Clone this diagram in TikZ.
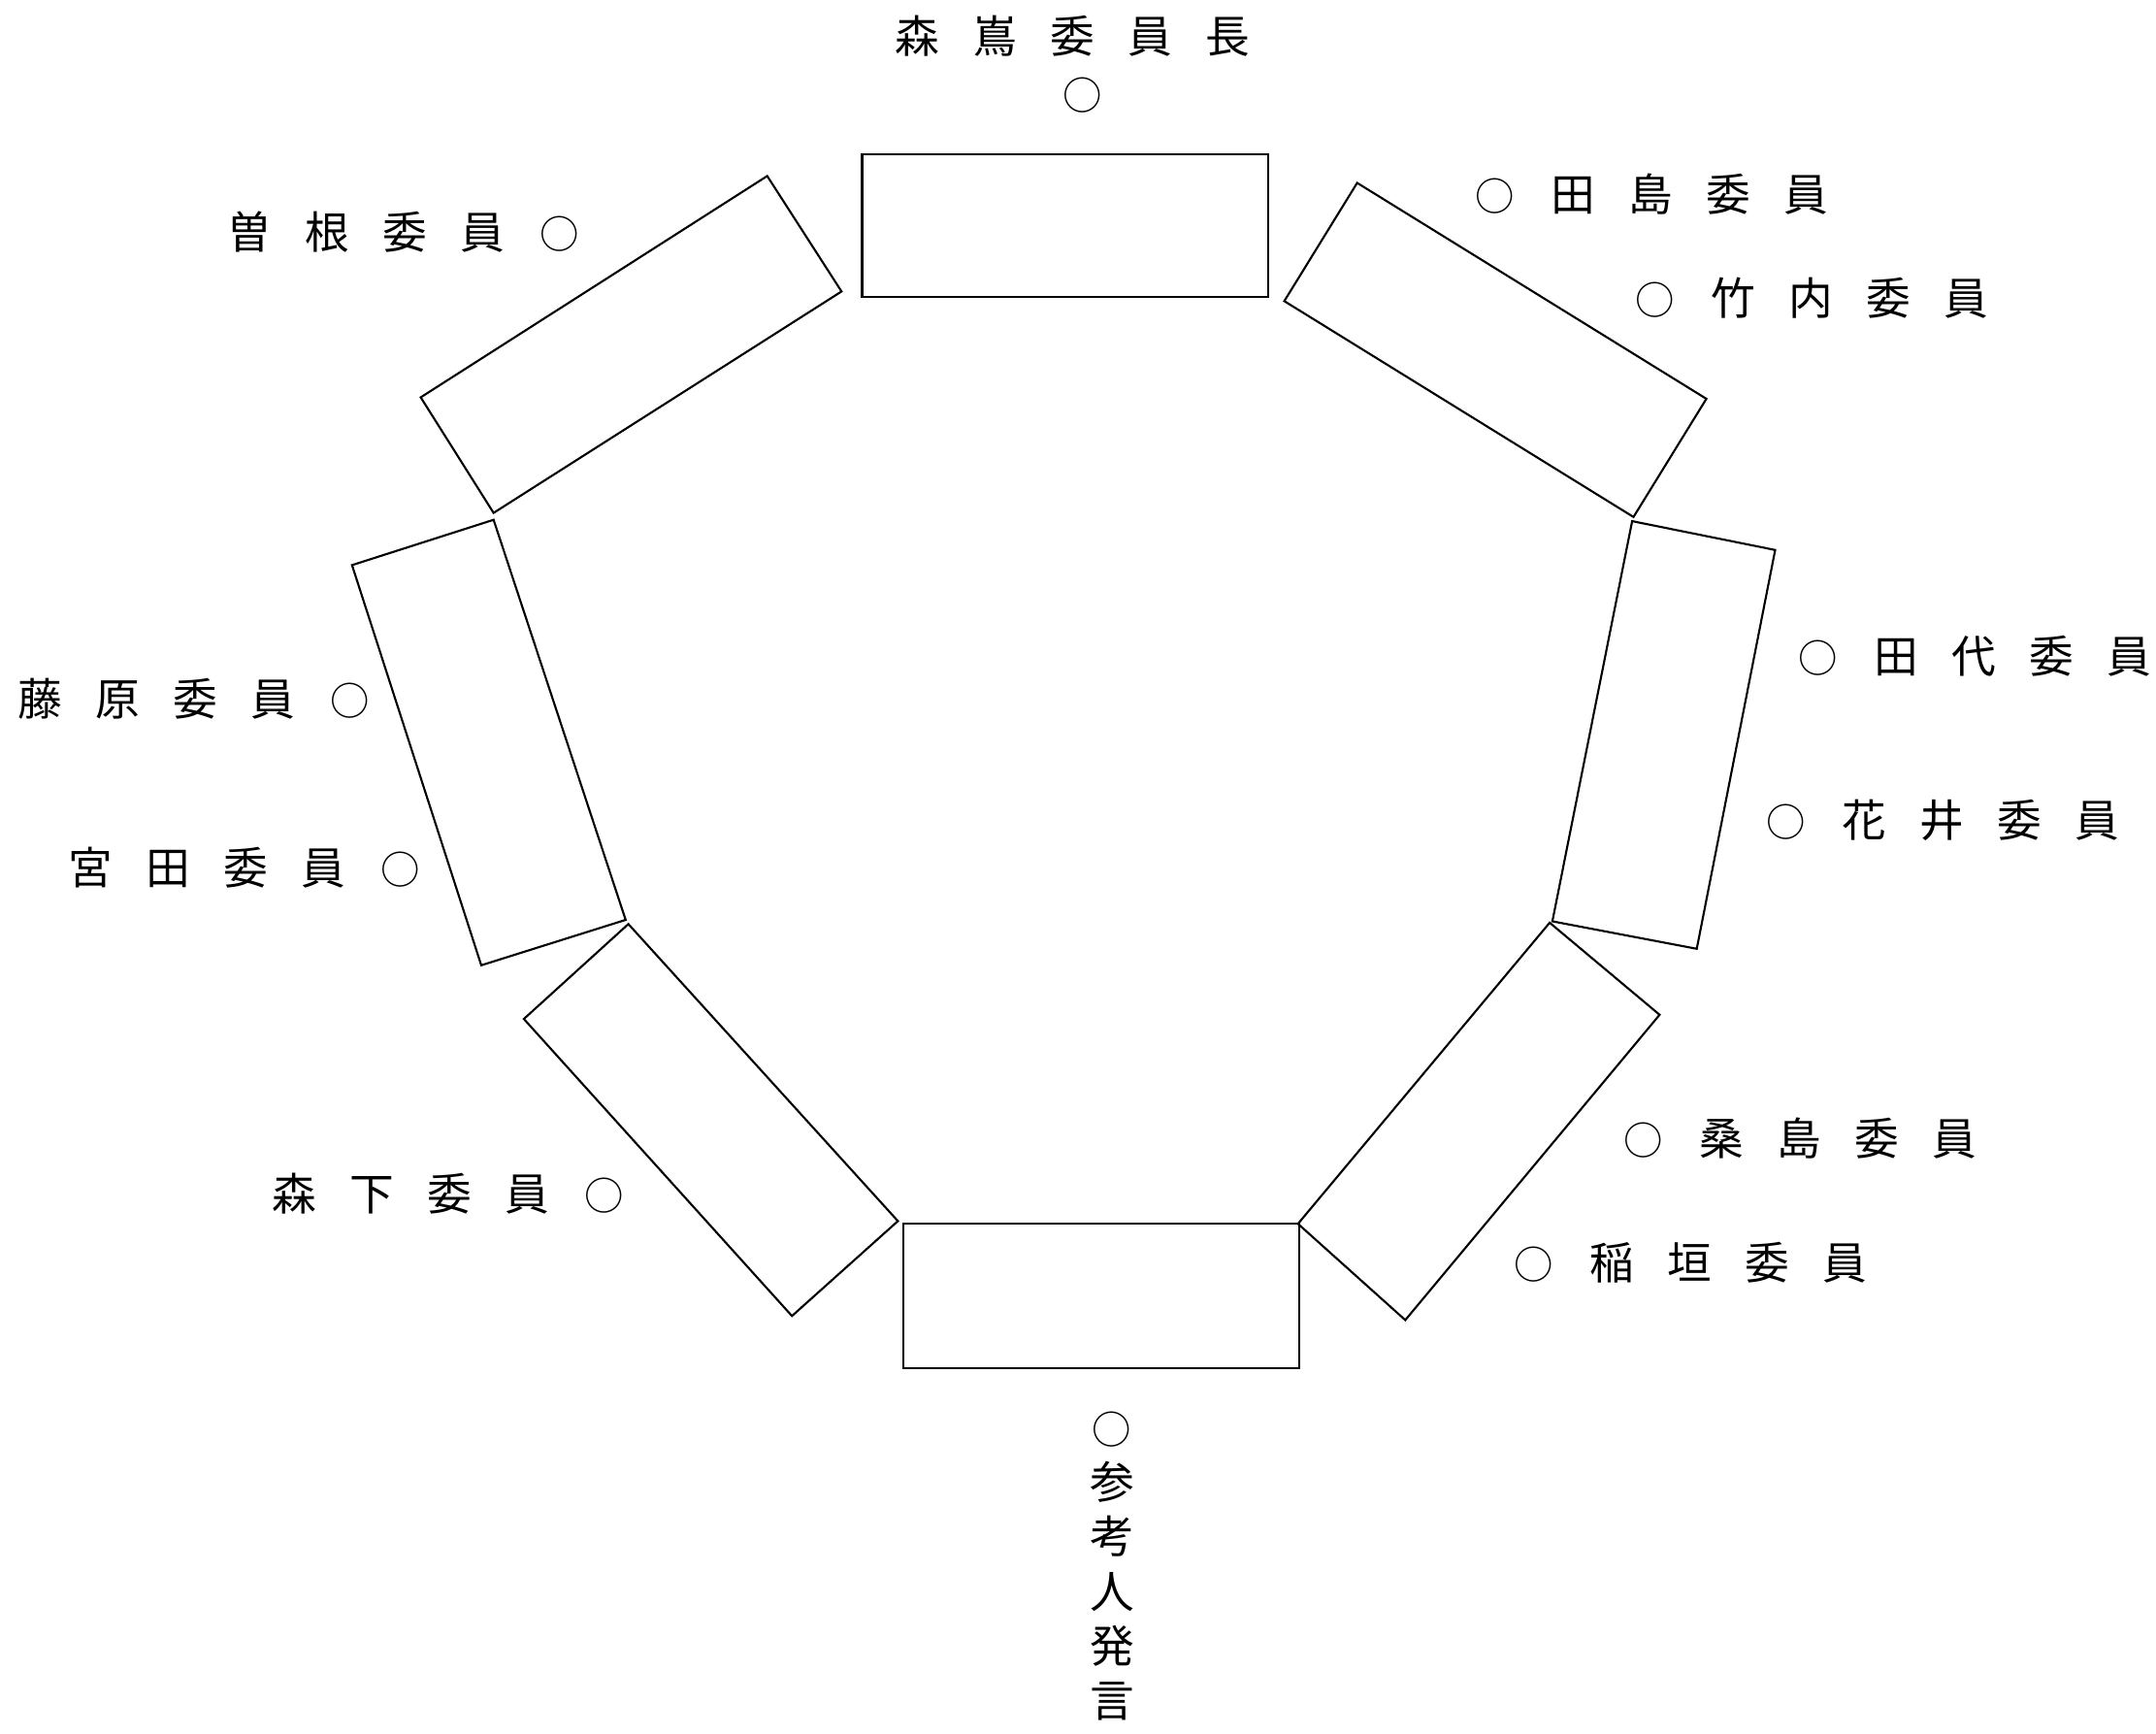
\documentclass[tikz,border=0pt]{standalone}
\usepackage{fontspec}
\newfontfamily\jpfont{Noto Sans CJK JP}
\usepackage{tikz}

\newcommand{\kspace}{\hspace{0.75em}}
\newcommand{\maru}{\makebox[1em]{\fontsize{11.5pt}{14pt}\selectfont ○}}

\begin{document}
\begin{tikzpicture}[line width=0.6pt,
  seat/.style={font=\jpfont\fontsize{13pt}{16pt}\selectfont, inner sep=0pt},
  desk/.style={draw=black, line width=0.6pt}]
  \useasboundingbox (0,0) rectangle (22.22,17.86);

  % tables
  \draw[desk] (8.885,16.273) rectangle (13.066,14.799);
  \draw[desk] (13.987,15.975) -- (17.586,13.750) -- (16.835,12.532) -- (13.236,14.757) -- cycle;
  \draw[desk] (16.821,12.489) -- (18.295,12.192) -- (17.487,8.082) -- (15.999,8.365) -- cycle;
  \draw[desk] (15.971,8.351) -- (17.104,7.402) -- (14.483,4.256) -- (13.377,5.248) -- cycle;
  \draw[desk] (9.310,5.248) rectangle (13.392,3.760);
  \draw[desk] (6.476,8.337) -- (9.254,5.276) -- (8.162,4.298) -- (5.399,7.359) -- cycle;
  \draw[desk] (3.628,12.036) -- (5.087,12.503) -- (6.448,8.380) -- (4.960,7.912) -- cycle;
  \draw[desk] (7.907,16.046) -- (8.673,14.856) -- (5.087,12.574) -- (4.336,13.765) -- cycle;

  % chair
  \node[seat] (chair) at (11.05,17.49) {森\kspace 嶌\kspace 委\kspace 員\kspace 長};
  \node[seat] (chairmark) at (11.16,16.88) {\maru};

  % right side
  \node[seat] (tajima) at (17.01,15.86) {\maru\kspace 田\kspace 島\kspace 委\kspace 員};
  \node[seat] (takeuchi) at (18.66,14.79) {\maru\kspace 竹\kspace 内\kspace 委\kspace 員};
  \node[seat] (tashiro) at (20.34,11.10) {\maru\kspace 田\kspace 代\kspace 委\kspace 員};
  \node[seat] (hanai) at (20.01,9.41) {\maru\kspace 花\kspace 井\kspace 委\kspace 員};
  \node[seat] (kuwajima) at (18.54,6.13) {\maru\kspace 桑\kspace 島\kspace 委\kspace 員};
  \node[seat] (inagaki) at (17.41,4.85) {\maru\kspace 稲\kspace 垣\kspace 委\kspace 員};

  % witness
  \node[seat, align=center, font=\jpfont\fontsize{13pt}{15.97pt}\selectfont] (witness) at (11.46,1.72) {\maru\\参\\考\\人\\発\\言};

  % left side
  \node[seat] (morishita) at (4.63,5.56) {森\kspace 下\kspace 委\kspace 員\kspace \maru};
  \node[seat] (miyata) at (2.53,8.92) {宮\kspace 田\kspace 委\kspace 員\kspace \maru};
  \node[seat] (fujiwara) at (2.01,10.66) {藤\kspace 原\kspace 委\kspace 員\kspace \maru};
  \node[seat] (sone) at (4.17,15.47) {曽\kspace 根\kspace 委\kspace 員\kspace \maru};
\end{tikzpicture}
\end{document}
